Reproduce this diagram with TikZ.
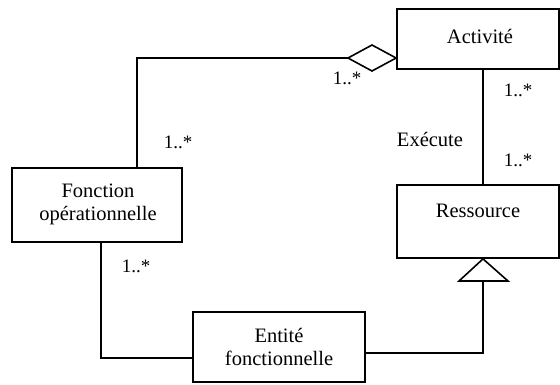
\documentclass[tikz,border=0pt]{standalone}
\usepackage{fontspec}
\setmainfont{Liberation Serif}
\begin{document}
\begin{tikzpicture}[x=1pt,y=-1pt,
  box/.style={draw, line width=1.8pt, inner sep=0pt, align=center},
  conn/.style={line width=1.5pt},
  lbl/.style={font=\fontsize{20.5}{23}\selectfont, inner sep=0pt, align=center},
  mult/.style={font=\fontsize{19}{22}\selectfont, inner sep=0pt}]
\useasboundingbox (0,0) rectangle (560,384);
\node[box, minimum width=162pt, minimum height=60pt] (act) at (478,39) {};
\node[lbl] (actl) at (480,36) {Activité};
\node[box, minimum width=170pt, minimum height=74pt] (fonc) at (97,205) {};
\node[lbl] (foncl) at (98,204) {Fonction\\opérationnelle};
\node[box, minimum width=162pt, minimum height=73pt] (res) at (478,221.5) {};
\node[lbl] (resl) at (478,211) {Ressource};
\node[box, minimum width=172pt, minimum height=70pt] (ent) at (279,347) {};
\node[lbl] (entl) at (279,347) {Entité\\fonctionnelle};
% aggregation diamond
\coordinate (dR) at (act.west |- 0,58);
\coordinate (dL) at (348,58);
\draw[line width=1.6pt, line join=miter] (dR) -- (372,45) -- (dL) -- (372,71) -- cycle;
\draw[conn] (dL) -- (137,58) -- (137,0 |- fonc.north);
% execute
\draw[conn] (483,0 |- act.south) -- (483,0 |- res.north);
% generalisation triangle
\coordinate (tA) at (483,0 |- res.south);
\coordinate (tB) at (483,281);
\draw[line width=1.6pt, line join=miter] (tA) -- (508,281) -- (459,281) -- cycle;
\draw[conn] (101,0 |- fonc.south) -- (101,358) -- (ent.west |- 0,358);
\draw[conn] (ent.east |- 0,353) -- (483,353) -- (tB);
% labels
\node[mult] (m1) at (347,78) {1..*};
\node[mult] (m2) at (178,142) {1..*};
\node[mult] (m3) at (518,90) {1..*};
\node[mult] (m4) at (518,160) {1..*};
\node[mult] (m5) at (136,266) {1..*};
\node[lbl] (ex) at (430,139) {Exécute};
\end{tikzpicture}
\end{document}
